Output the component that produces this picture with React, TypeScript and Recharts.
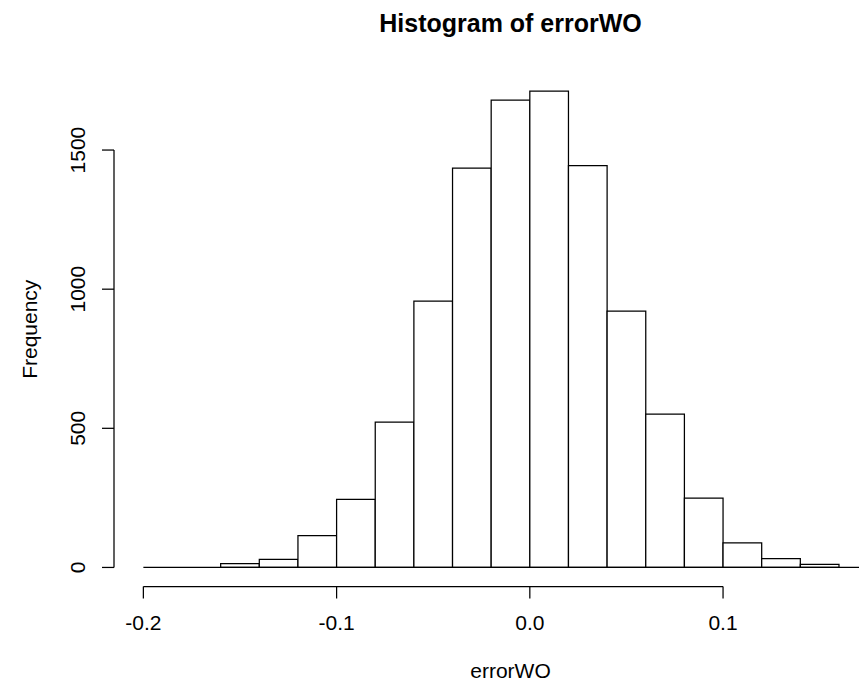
import React from 'react';
import { ComposedChart, XAxis, YAxis, ReferenceArea, ReferenceLine, Line } from 'recharts';

// Histogram bin edges (width 0.02)
const breaks = [
  -0.2, -0.18, -0.16, -0.14, -0.12, -0.1, -0.08, -0.06, -0.04, -0.02,
  0, 0.02, 0.04, 0.06, 0.08, 0.1, 0.12, 0.14, 0.16, 0.18,
];
// Frequencies per bin
const counts = [0, 0, 14, 29, 114, 245, 522, 957, 1435, 1679, 1712, 1444, 921, 551, 249, 88, 32, 11, 0];

const xTicks = [-0.2, -0.1, 0, 0.1];
const xTickLabels = ['-0.2', '-0.1', '0.0', '0.1'];
const yTicks = [0, 500, 1000, 1500];
const yTickLabels = ['0', '500', '1000', '1500'];

const titleText = 'Histogram of errorWO';
const xLabelText = 'errorWO';
const yLabelText = 'Frequency';

const bins = counts.map((c, i) => ({
  lo: breaks[i],
  hi: breaks[i + 1],
  mid: (breaks[i] + breaks[i + 1]) / 2,
  count: c,
}));

// R-style 4% axis extension
const xLo = breaks[0];
const xHi = breaks[breaks.length - 1];
const xPad = 0.04 * (xHi - xLo);
const xMin = xLo - xPad;
const xMax = xHi + xPad;
const maxCount = Math.max(...counts);
const yMin = -0.04 * maxCount;
const yMax = 1.04 * maxCount;

const FONT = '"Liberation Sans", Arial, Helvetica, sans-serif';
const INK = '#000';
const LW = 1.25;
const FS = 21;

const XTick = (props: any) => {
  const { x, y, payload } = props;
  const idx = xTicks.indexOf(payload.value);
  return (
    <text x={x} y={y + 31.5} textAnchor="middle" fontFamily={FONT} fontSize={FS} fill={INK}>
      {idx >= 0 ? xTickLabels[idx] : String(payload.value)}
    </text>
  );
};

const YTick = (props: any) => {
  const { x, y, payload } = props;
  const idx = yTicks.indexOf(payload.value);
  const bx = x - 16.8;
  return (
    <text
      x={bx}
      y={y}
      transform={`rotate(-90 ${bx} ${y})`}
      textAnchor="middle"
      fontFamily={FONT}
      fontSize={FS}
      fill={INK}
    >
      {idx >= 0 ? yTickLabels[idx] : String(payload.value)}
    </text>
  );
};

const CHART_W = 910;
const CHART_H = 689;
const M_TOP = 72;
const Y_AXIS_W = 114;
const X_AXIS_H = 102.5;
const M_RIGHT = 3;

export default function App() {
  const plotLeft = Y_AXIS_W;
  const plotRight = CHART_W - M_RIGHT;
  const plotTop = M_TOP;
  const plotBottom = CHART_H - X_AXIS_H;
  const cx = (plotLeft + plotRight) / 2;
  const cy = (plotTop + plotBottom) / 2;

  return (
    <div
      style={{
        position: 'absolute',
        left: 0,
        top: 0,
        width: 859,
        height: 689,
        overflow: 'hidden',
        background: '#fff',
      }}
    >
      <ComposedChart
        width={CHART_W}
        height={CHART_H}
        data={bins}
        margin={{ top: M_TOP, right: M_RIGHT, bottom: 0, left: 0 }}
      >
        <XAxis
          type="number"
          dataKey="mid"
          domain={[xMin, xMax]}
          ticks={xTicks}
          interval={0}
          allowDataOverflow
          axisLine={false}
          tickSize={12}
          tickMargin={0}
          tickLine={{ stroke: INK, strokeWidth: LW }}
          tick={(p: any) => <XTick {...p} />}
          height={X_AXIS_H}
        />
        <YAxis
          type="number"
          domain={[yMin, yMax]}
          ticks={yTicks}
          interval={0}
          allowDataOverflow
          axisLine={false}
          tickSize={12}
          tickMargin={0}
          tickLine={{ stroke: INK, strokeWidth: LW }}
          tick={(p: any) => <YTick {...p} />}
          width={Y_AXIS_W}
        />
        {bins.map((b, i) => (
          <ReferenceArea
            key={i}
            x1={b.lo}
            x2={b.hi}
            y1={0}
            y2={b.count}
            fill="#fff"
            fillOpacity={1}
            stroke={INK}
            strokeWidth={LW}
            strokeOpacity={1}
            ifOverflow="visible"
          />
        ))}
        <ReferenceLine
          segment={[
            { x: xLo, y: 0 },
            { x: xHi, y: 0 },
          ]}
          stroke={INK}
          strokeWidth={LW}
          ifOverflow="visible"
        />
        <ReferenceLine
          segment={[
            { x: xTicks[0], y: yMin },
            { x: xTicks[xTicks.length - 1], y: yMin },
          ]}
          stroke={INK}
          strokeWidth={LW}
          ifOverflow="visible"
        />
        <ReferenceLine
          segment={[
            { x: xMin, y: yTicks[0] },
            { x: xMin, y: yTicks[yTicks.length - 1] },
          ]}
          stroke={INK}
          strokeWidth={LW}
          ifOverflow="visible"
        />
        <Line dataKey="count" stroke="none" dot={false} activeDot={false} isAnimationActive={false} />
      </ComposedChart>
      <svg
        width={859}
        height={689}
        style={{ position: 'absolute', left: 0, top: 0, pointerEvents: 'none' }}
      >
        <text x={cx} y={32} textAnchor="middle" fontFamily={FONT} fontSize={25} fontWeight="bold" fill={INK}>
          {titleText}
        </text>
        <text x={cx} y={678} textAnchor="middle" fontFamily={FONT} fontSize={FS} fill={INK}>
          {xLabelText}
        </text>
        <text
          x={37.2}
          y={cy}
          transform={`rotate(-90 37.2 ${cy})`}
          textAnchor="middle"
          fontFamily={FONT}
          fontSize={FS}
          fill={INK}
        >
          {yLabelText}
        </text>
      </svg>
    </div>
  );
}
